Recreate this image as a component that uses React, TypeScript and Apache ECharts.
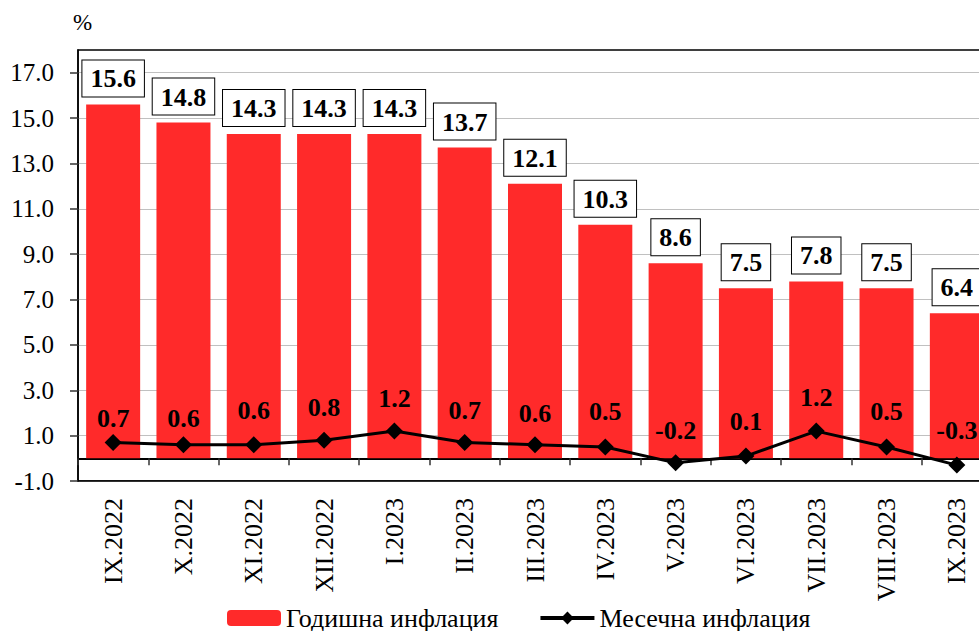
import React, { useEffect, useRef } from "react";
import * as echarts from "echarts";

const categories = [
  "IX.2022", "X.2022", "XI.2022", "XII.2022", "I.2023", "II.2023", "III.2023",
  "IV.2023", "V.2023", "VI.2023", "VII.2023", "VIII.2023", "IX.2023",
];
const annualInflation = [15.6, 14.8, 14.3, 14.3, 14.3, 13.7, 12.1, 10.3, 8.6, 7.5, 7.8, 7.5, 6.4];
const monthlyInflation = [0.7, 0.6, 0.6, 0.8, 1.2, 0.7, 0.6, 0.5, -0.2, 0.1, 1.2, 0.5, -0.3];
const yTickValues = [-1, 1, 3, 5, 7, 9, 11, 13, 15, 17];
const seriesNames = ["Годишна инфлация", "Месечна инфлация"];
const unitLabel = "%";

const FONT = "'Liberation Serif', 'Times New Roman', serif";

export default function App() {
  const ref = useRef<HTMLDivElement>(null);

  useEffect(() => {
    if (!ref.current) return;
    const chart = echarts.init(ref.current, null, { renderer: "svg" });
    const lineLabelDistance = [2, 5, 13, 11, 11, 10, 10, 14, 11, 13, 12, 14, 13];

    chart.setOption({
      animation: false,
      backgroundColor: "#fff",
      textStyle: { fontFamily: FONT },
      grid: {
        left: 78,
        top: 50,
        width: 914,
        bottom: 150,
        outerBoundsMode: "none",
        containLabel: false,
        show: true,
        borderColor: "#000",
        borderWidth: 1.5,
        backgroundColor: "#fff",
      },
      graphic: [
        {
          type: "text",
          left: 73,
          top: 11,
          style: { text: unitLabel, fontSize: 23, fontFamily: FONT, fill: "#000" },
        },
      ],
      legend: {
        left: 222,
        top: 599,
        itemWidth: 54,
        itemHeight: 16,
        itemGap: 40,
        lineStyle: { width: 4 },
        data: [
          { name: seriesNames[0] },
          { name: seriesNames[1], lineStyle: { width: 4, color: "#000" } },
        ],
        textStyle: { fontSize: 26, fontFamily: FONT, color: "#000", lineHeight: 28 },
      },
      xAxis: [
        {
          type: "category",
          data: categories,
          position: "bottom",
          axisLine: { onZero: true, lineStyle: { color: "#000", width: 2 } },
          axisTick: { show: true, length: 7, lineStyle: { color: "#333", width: 1.5 } },
          axisLabel: { show: false },
          splitLine: { show: false },
        },
        {
          type: "category",
          data: categories,
          position: "bottom",
          axisLine: { onZero: false, lineStyle: { color: "#000", width: 1.5 } },
          axisTick: { show: false },
          axisLabel: {
            rotate: 90,
            margin: 17,
            fontSize: 26,
            fontFamily: FONT,
            color: "#000",
          },
          splitLine: { show: false },
        },
      ],
      yAxis: {
        type: "value",
        min: -1,
        max: 18,
        interval: 2,
        axisLine: { show: true, lineStyle: { color: "#000", width: 1.5 } },
        axisTick: {
          show: true,
          length: 8,
          customValues: yTickValues,
          lineStyle: { color: "#333", width: 1.5 },
        },
        axisLabel: {
          margin: 24,
          fontSize: 25,
          fontFamily: FONT,
          color: "#000",
          customValues: yTickValues,
          formatter: (v: number) => v.toFixed(1),
        },
        splitLine: { show: true, lineStyle: { color: "#c0c0c0", width: 1 } },
      },
      series: [
        {
          name: seriesNames[0],
          type: "bar",
          xAxisIndex: 0,
          data: annualInflation,
          barWidth: 54,
          itemStyle: { color: "#ff2a2a" },
          label: {
            show: true,
            position: "top",
            distance: 8,
            formatter: (p: any) => Number(p.value).toFixed(1),
            fontSize: 26,
            fontWeight: "bold",
            fontFamily: FONT,
            color: "#000",
            backgroundColor: "#fff",
            borderColor: "#000",
            borderWidth: 1,
            padding: [5, 8, 4, 8],
            lineHeight: 27,
          },
        },
        {
          name: seriesNames[1],
          type: "line",
          xAxisIndex: 0,
          data: monthlyInflation.map((v, i) => ({
            value: v,
            label: { distance: lineLabelDistance[i] },
          })),
          symbol: "diamond",
          symbolSize: 17,
          z: 5,
          lineStyle: { color: "#000", width: 3 },
          itemStyle: { color: "#000" },
          label: {
            show: true,
            position: "top",
            formatter: (p: any) => Number(p.value).toFixed(1),
            fontSize: 26,
            fontWeight: "bold",
            fontFamily: FONT,
            color: "#000",
          },
        },
      ],
    });

    return () => chart.dispose();
  }, []);

  return (
    <div
      ref={ref}
      style={{ position: "fixed", left: 0, top: 0, width: 979, height: 631 }}
    />
  );
}
